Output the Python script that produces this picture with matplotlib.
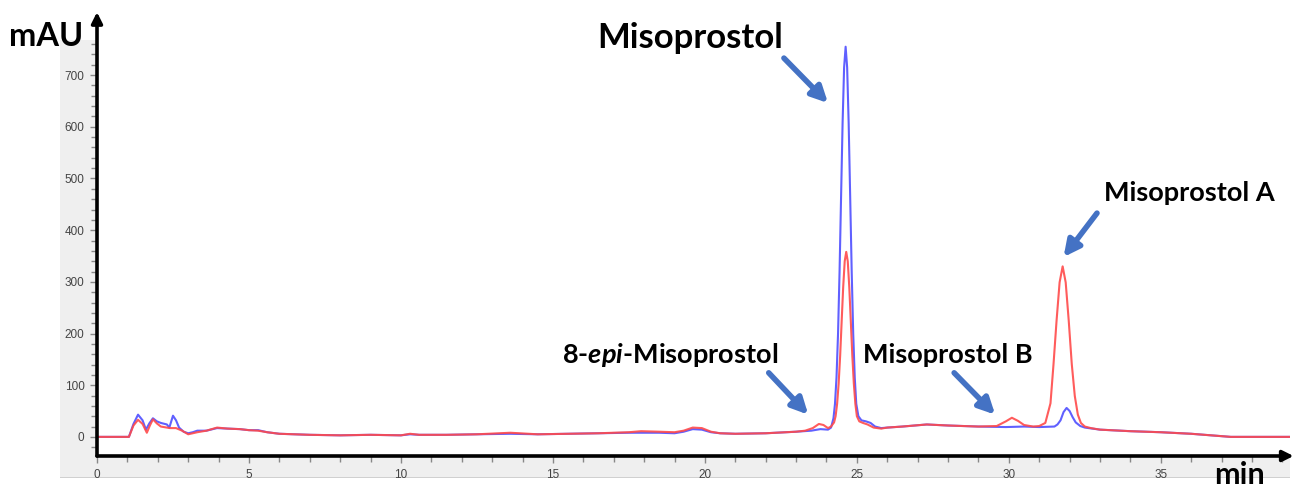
import matplotlib
matplotlib.use("Agg")
import matplotlib.pyplot as plt
from matplotlib.patches import Rectangle
from matplotlib.ticker import MultipleLocator

blue_t = [0.0, 1.05, 1.2, 1.35, 1.5, 1.61, 1.72, 1.84, 1.97, 2.1,
          2.3, 2.38, 2.5, 2.6, 2.7, 2.85, 3.0, 3.15, 3.3, 3.6,
          3.95, 4.3, 4.7, 5.0, 5.3, 5.6, 6.0, 6.5, 7.0, 8.0,
          9.0, 10.0, 10.3, 10.6, 11.5, 12.5, 13.6, 14.5, 15.5, 16.5,
          17.5, 18.5, 19.0, 19.3, 19.6, 19.9, 20.2, 20.5, 21.0, 22.0,
          23.0, 23.5, 23.8, 24.05, 24.15, 24.23, 24.28, 24.33, 24.38, 24.43,
          24.48, 24.53, 24.58, 24.63, 24.68, 24.73, 24.78, 24.83, 24.88, 24.93,
          24.98, 25.05, 25.15, 25.3, 25.45, 25.6, 25.8, 26.0, 26.5, 27.3,
          28.0, 29.0, 29.9, 30.5, 31.0, 31.5, 31.6, 31.7, 31.8, 31.9,
          32.0, 32.1, 32.2, 32.35, 32.5, 33.0, 34.0, 35.0, 36.0, 37.3,
          38.0, 39.3]
blue_v = [0, 0, 25, 43, 32, 14, 26, 36, 30, 27,
          24, 18, 41, 32, 18, 10, 7, 9, 12, 12,
          17, 16, 15, 13, 13, 9, 6, 5, 4, 3,
          4, 3, 5, 4, 4, 5, 6, 5, 6, 7,
          8, 8, 7, 10, 15, 14, 9, 7, 6, 7,
          10, 12, 15, 14, 18, 36, 64, 115, 199, 319,
          464, 607, 715, 755, 715, 607, 464, 319, 199, 115,
          64, 40, 32, 30, 27, 20, 17, 18, 20, 24,
          22, 20, 19, 20, 19, 20, 24, 32, 48, 56,
          50, 38, 28, 21, 18, 14, 11, 9, 6, 0,
          0, 0]

red_t = [0.0, 1.05, 1.2, 1.35, 1.5, 1.64, 1.74, 1.84, 1.97, 2.1,
         2.4, 2.6, 2.8, 3.0, 3.15, 3.3, 3.6, 3.95, 4.3, 4.7,
         5.0, 5.3, 5.6, 6.0, 6.5, 7.0, 8.0, 9.0, 10.0, 10.3,
         10.6, 11.5, 12.5, 13.6, 14.5, 15.5, 16.5, 17.5, 17.9, 18.5,
         19.0, 19.3, 19.6, 19.9, 20.2, 20.5, 21.0, 22.0, 23.0, 23.3,
         23.55, 23.75, 23.9, 24.05, 24.15, 24.25, 24.3, 24.35, 24.4, 24.45,
         24.5, 24.55, 24.6, 24.65, 24.7, 24.75, 24.8, 24.85, 24.9, 24.95,
         25.0, 25.08, 25.2, 25.35, 25.55, 25.8, 26.0, 26.5, 27.3, 28.0,
         29.0, 29.6, 29.9, 30.1, 30.3, 30.5, 30.8, 31.0, 31.2, 31.37,
         31.47, 31.57, 31.67, 31.77, 31.87, 31.97, 32.07, 32.17, 32.27, 32.37,
         32.5, 32.7, 33.0, 34.0, 35.0, 36.0, 37.3, 38.0, 39.3]
red_v = [0, 0, 22, 33, 25, 8, 22, 34, 26, 20,
         17, 17, 12, 5, 7, 9, 12, 18, 16, 15,
         13, 12, 9, 6, 5, 4, 3, 4, 3, 6,
         4, 4, 5, 8, 5, 6, 7, 9, 11, 10,
         9, 12, 18, 17, 10, 7, 6, 7, 10, 12,
         17, 25, 23, 17, 20, 28, 40, 64, 103, 157,
         224, 290, 340, 358, 340, 290, 224, 157, 103, 64,
         40, 30, 27, 24, 18, 16, 18, 20, 24, 22,
         20, 21, 30, 37, 31, 23, 20, 21, 27, 65,
         141, 225, 299, 330, 299, 225, 141, 79, 43, 27,
         20, 17, 14, 11, 9, 6, 0, 0, 0]

# Annotations : texte, position du texte, queue et pointe de la fleche
peak_labels = ["Misoprostol", "8-$\\mathit{epi}$-Misoprostol", "Misoprostol B", "Misoprostol A"]
label_pos = [(19.5, 772), (18.85, 159), (28.0, 159), (35.95, 472)]
label_size = [25, 19.5, 19.5, 19.5]
arrow_tail = [(22.6, 733), (22.1, 124), (28.2, 124), (32.9, 433)]
arrow_tip = [(24.05, 646), (23.4, 43), (29.55, 43), (31.8, 348)]


def main():
	plt.rcParams['font.family'] = ['Liberation Sans', 'DejaVu Sans']
	plt.rcParams['mathtext.fontset'] = 'custom'
	plt.rcParams['mathtext.rm'] = 'Lato:bold'
	plt.rcParams['mathtext.it'] = 'Lato:italic:bold'

	W, H = 1297, 488
	fig = plt.figure(figsize=(W / 100, H / 100), dpi=100)

	# Fond gris du logiciel autour du graphique
	fig.add_artist(Rectangle((60 / W, 11 / H), 1230 / W, 437 / H, transform=fig.transFigure,
							 facecolor='#efefef', edgecolor='none', zorder=0))
	fig.add_artist(Rectangle((60 / W, 10 / H), 1230 / W, 1.5 / H, transform=fig.transFigure,
							 facecolor='#d0d0d0', edgecolor='none', zorder=0))

	ax = fig.add_axes([97 / W, 32 / H, 1193 / W, 416 / H])
	ax.set_facecolor('white')
	ax.plot(blue_t, blue_v, color='#4f4fff', lw=1.5, alpha=0.9, zorder=3)
	ax.plot(red_t, red_v, color='#ff4a4a', lw=1.5, alpha=0.9, zorder=4)

	ax.set_xlim(0, 39.25)
	ax.set_ylim(-37, 768)

	for s in ax.spines.values():
		s.set_visible(False)

	# Axes avec fleches
	ax.annotate('', xy=(0, 1.067), xytext=(0, 0), xycoords='axes fraction',
				arrowprops=dict(arrowstyle='-|>', lw=2.6, color='black', mutation_scale=16,
								shrinkA=0, shrinkB=0), zorder=6)
	ax.annotate('', xy=(1.003, 0), xytext=(0, 0), xycoords='axes fraction',
				arrowprops=dict(arrowstyle='-|>', lw=2.6, color='black', mutation_scale=16,
								shrinkA=0, shrinkB=0), zorder=6)

	ax.xaxis.set_minor_locator(MultipleLocator(1))
	ax.yaxis.set_minor_locator(MultipleLocator(20))
	ax.set_xticks(range(0, 40, 5))
	ax.set_yticks(range(0, 800, 100))
	ax.tick_params(which='both', direction='out', color='#888888', width=1,
				   labelsize=8.5, labelcolor='#444444')
	ax.tick_params(which='major', length=5, pad=4)
	ax.tick_params(which='minor', length=4)

	# Noms des pics et fleches bleues
	for lab, pos, size, tail, tip in zip(peak_labels, label_pos, label_size, arrow_tail, arrow_tip):
		ax.text(pos[0], pos[1], lab, fontsize=size, fontweight='bold', family='Lato',
				ha='center', va='center', clip_on=False, zorder=7)
		ax.annotate('', xy=tip, xytext=tail,
					arrowprops=dict(arrowstyle='-|>', lw=4, color='#4472c4', mutation_scale=24,
									shrinkA=0, shrinkB=0), annotation_clip=False, zorder=7)

	fig.text(46 / W, 1 - 37 / H, "mAU", fontsize=23.5, fontweight='bold', family='Lato',
			 ha='center', va='center')
	fig.text(1240 / W, 4 / H, "min", fontsize=22, fontweight='bold', family='Lato',
			 ha='center', va='baseline')

	fig.savefig("out.png", dpi=100)


if __name__ == "__main__":
	main()
